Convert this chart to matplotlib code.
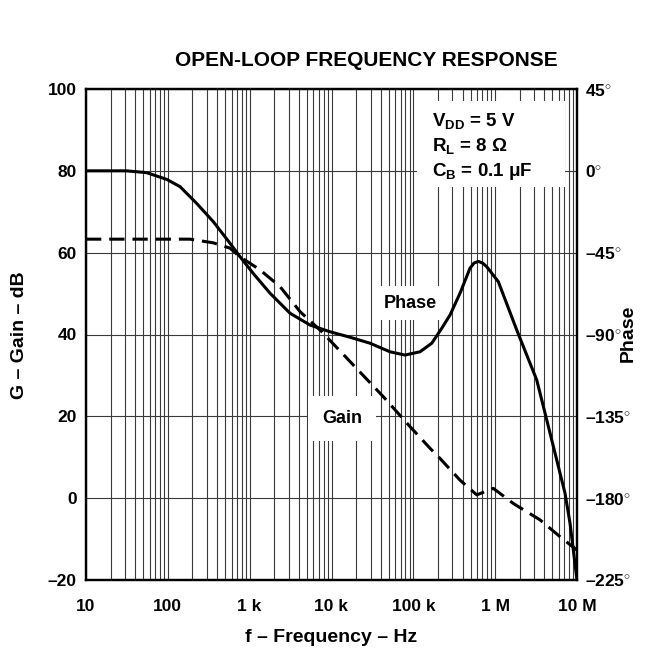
import matplotlib
matplotlib.use("Agg")
import matplotlib.pyplot as plt
from matplotlib.patches import Rectangle
from matplotlib.ticker import FixedLocator, NullFormatter

plt.rcParams['font.family'] = ['Liberation Sans', 'DejaVu Sans']
plt.rcParams['font.weight'] = 'bold'
plt.rcParams['mathtext.fontset'] = 'custom'
plt.rcParams['mathtext.rm'] = 'Liberation Sans:bold'
plt.rcParams['mathtext.it'] = 'Liberation Sans:bold'
plt.rcParams['mathtext.bf'] = 'Liberation Sans:bold'
plt.rcParams['mathtext.default'] = 'rm'

# Open-loop phase (degrees) versus frequency (Hz)
phase_freq = [10, 31, 55, 97, 141, 225, 360, 575, 762, 1100, 1774, 3113, 5461,
              9590, 16830, 29580, 51880, 79100, 120700, 167900, 222300, 280700,
              372000, 493000, 552000, 622000, 700000, 788000, 1.094e6, 1.834e6,
              3.22e6, 4.27e6, 7.14e6, 8.22e6, 1.0e7]
phase_deg = [0, 0, -1.0, -4.7, -8.7, -17.9, -28, -39.8, -47.2, -56.3, -67.3,
             -78.3, -84.8, -88.5, -91.5, -94.8, -99.5, -101.3, -99.5, -94.8,
             -86.6, -79.3, -67.3, -53.5, -50.7, -49.8, -50.7, -52.7, -61,
             -87.5, -115, -137, -177.3, -193.8, -225]

# Open-loop gain (dB) versus frequency (Hz)
gain_freq = [10, 187, 360, 575, 762, 1337, 2349, 4121, 7590, 16830, 42960,
             91000, 160000, 212000, 372000, 596000, 949000, 1.667e6, 3.53e6,
             6.19e6, 1.0e7]
gain_db = [63.3, 63.3, 62.4, 61.1, 59.0, 55.8, 51.7, 45.6, 40.7, 33.4, 24.8,
           17.5, 12.2, 9.7, 4.4, 0.8, 2.4, -1.3, -5.3, -9.4, -12.7]

x_ticks = [10, 100, 1e3, 1e4, 1e5, 1e6, 1e7]
x_labels = ['10', '100', '1 k', '10 k', '100 k', '1 M', '10 M']
gain_ticks = [-20, 0, 20, 40, 60, 80, 100]
gain_labels = ['\u201320', '0', '20', '40', '60', '80', '100']
phase_ticks = [-225, -180, -135, -90, -45, 0, 45]
deg = '$^{\\circ}$'
phase_labels = ['\u2013225' + deg, '\u2013180' + deg, '\u2013135' + deg,
                '\u201390' + deg, '\u201345' + deg, '0' + deg, '45' + deg]

fig = plt.figure(figsize=(6.57, 6.53), dpi=100)
ax = fig.add_axes([86 / 657, 73 / 653, 491 / 657, 491 / 653])
ax.set_xscale('log')
ax.set_xlim(10, 1e7)
ax.set_ylim(-20, 100)

# full decade grid: every 1..9 multiple in each decade
minor = [m * 10 ** d for d in range(1, 7) for m in range(2, 10)]
ax.xaxis.set_major_locator(FixedLocator(x_ticks))
ax.xaxis.set_minor_locator(FixedLocator(minor))
ax.xaxis.set_minor_formatter(NullFormatter())
ax.set_xticklabels(x_labels)
ax.set_yticks(gain_ticks)
ax.set_yticklabels(gain_labels)
ax.set_axisbelow(True)
grid_kw = dict(color='#3a3a3a', linewidth=0.8)
ax.grid(True, which='major', axis='both', **grid_kw)
ax.grid(True, which='minor', axis='x', **grid_kw)
ax.tick_params(axis='both', which='both', length=0, labelsize=12.5)
ax.tick_params(axis='x', pad=14)
ax.tick_params(axis='y', pad=6.5)
for s in ax.spines.values():
    s.set_linewidth(1.6)

ax.plot(gain_freq, gain_db, color='black', lw=2.2,
        linestyle=(0, (5, 2.6)), zorder=4)

ax2 = ax.twinx()
ax2.set_ylim(-225, 45)
ax2.set_yticks(phase_ticks)
ax2.set_yticklabels(phase_labels)
ax2.tick_params(axis='y', length=0, labelsize=12.5, pad=6)
for s in ax2.spines.values():
    s.set_linewidth(1.6)
ax2.plot(phase_freq, phase_deg, color='black', lw=2.2, solid_capstyle='butt',
         solid_joinstyle='round', zorder=4)

# white panel holding the test conditions
ax.add_patch(Rectangle((0.675, 0.8), 0.30, 0.175, transform=ax.transAxes,
                       facecolor='white', edgecolor='none', zorder=1.5))
cond = ['V$_{DD}$ = 5 V', 'R$_{L}$ = 8 \u03a9', 'C$_{B}$ = 0.1 \u03bcF']
for i, t in enumerate(cond):
    ax.text(0.705, 0.935 - i * 0.052, t, transform=ax.transAxes,
            fontsize=13.5, fontweight='bold', va='center', ha='left', zorder=3)

ax2.text(9.1e4, -72.7, 'Phase', fontsize=13, fontweight='bold',
         ha='center', va='center', zorder=3,
         bbox=dict(facecolor='white', edgecolor='none', pad=6))
ax2.text(1.34e4, -136, 'Gain', fontsize=13, fontweight='bold',
         ha='center', va='center', zorder=3,
         bbox=dict(facecolor='white', edgecolor='none', pad=10))

fig.text(366 / 657, 1 - 60 / 653, 'OPEN-LOOP FREQUENCY RESPONSE',
         fontsize=15, fontweight='bold', ha='center', va='center')
fig.text(331 / 657, 1 - 638 / 653, 'f \u2013 Frequency \u2013 Hz',
         fontsize=14, fontweight='bold', ha='center', va='center')
fig.text(20 / 657, 1 - 335 / 653, 'G \u2013 Gain \u2013 dB', rotation=90,
         fontsize=14, fontweight='bold', ha='center', va='center')
fig.text(628 / 657, 1 - 333 / 653, 'Phase', rotation=90,
         fontsize=14, fontweight='bold', ha='center', va='center')

fig.savefig('out.png', dpi=100)
